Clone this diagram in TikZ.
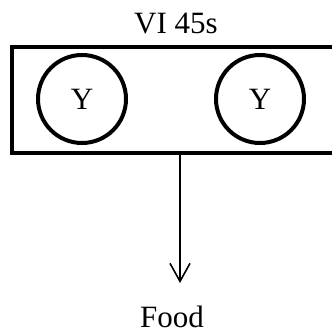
\documentclass[tikz,border=0pt]{standalone}
\usepackage{fontspec}
\setmainfont{Liberation Serif}
\usetikzlibrary{arrows.meta}
\begin{document}
\begin{tikzpicture}[x=1pt,y=1pt,
  label text/.style={font=\fontsize{31}{36}\selectfont, inner sep=0pt},
  panel/.style={draw, line width=4pt, minimum width=334pt, minimum height=106pt, inner sep=0pt},
  key/.style={draw, circle, line width=4pt, minimum size=88pt, inner sep=0pt, font=\fontsize{31}{36}\selectfont},
  feed/.style={line width=1.6pt, -{Straight Barb[length=18pt,width=20pt,line width=1.6pt]}}]
  \useasboundingbox (0,0) rectangle (332,-332);
  % operant panel with two response keys
  \node[panel] (box) at (179,-100) {};
  \node[key] (k1) at (82,-99) {Y};
  \node[key] (k2) at (260,-99) {Y};
  % schedule label
  \node[label text, anchor=base] (sched) at (176,-33) {VI 45s};
  % reinforcer
  \node[label text, anchor=base] (food) at (172,-327) {Food};
  \coordinate (tip) at (180,-283);
  \draw[feed] (box.south -| tip) -- (tip);
\end{tikzpicture}
\end{document}
